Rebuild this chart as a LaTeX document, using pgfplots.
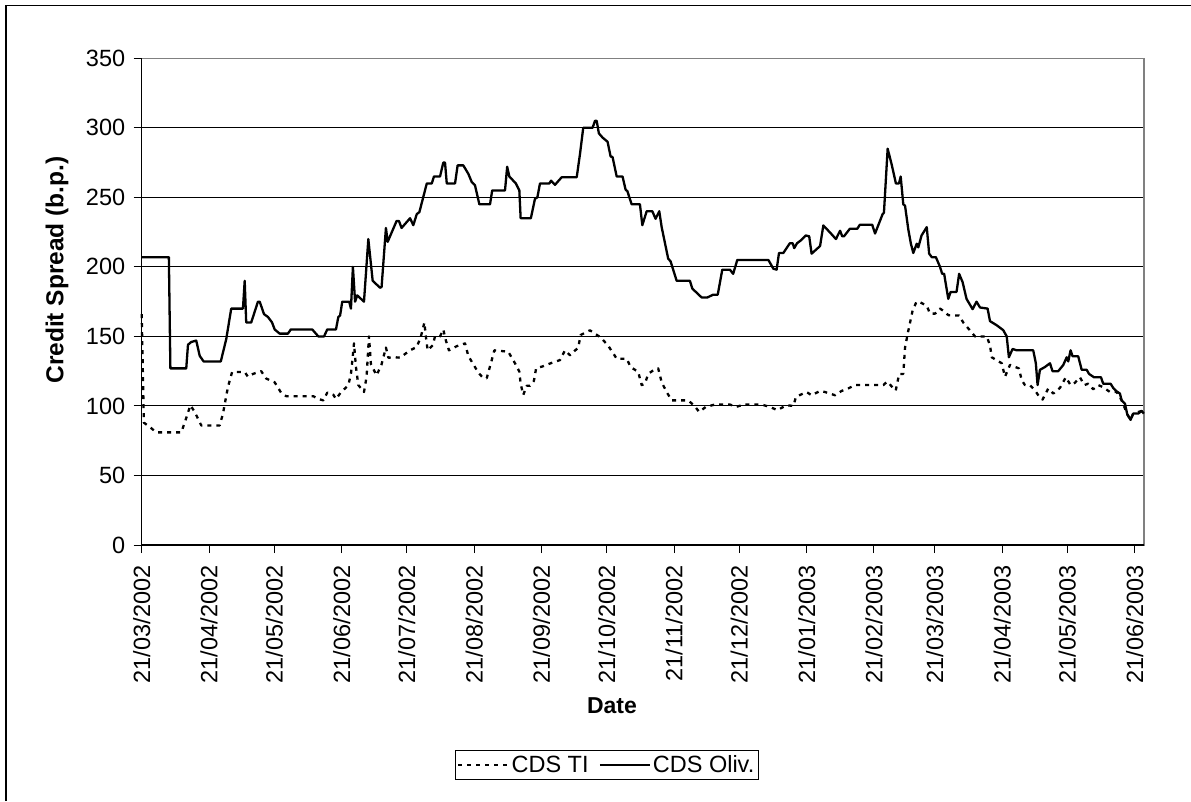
\documentclass[border=0pt]{standalone}
\usepackage{fontspec}
\setmainfont{Liberation Sans}
\usepackage{pgfplots}
\pgfplotsset{compat=1.18}
\begin{document}
\begin{tikzpicture}[x=1pt,y=1pt]
\path[use as bounding box] (0,0) rectangle (1191,801);
\draw[black, line width=1.5pt] (6,0) -- (6,795.5) -- (1191,795.5);
\begin{axis}[
  at={(141.7pt,256pt)}, anchor=south west,
  scale only axis, width=1002.3pt, height=486.7pt,
  xmin=0, xmax=461.3, ymin=0, ymax=350,
  ytick={0,50,...,350},
  xtick={0,31,61,92,122,153,184,214,245,275,306,337,365,396,426,457},
  xticklabels={21/03/2002,21/04/2002,21/05/2002,21/06/2002,21/07/2002,21/08/2002,21/09/2002,21/10/2002,21/11/2002,21/12/2002,21/01/2003,21/02/2003,21/03/2003,21/04/2003,21/05/2003,21/06/2003},
  xtick pos=left, ytick pos=left,
  tick align=outside, major tick length=8pt,
  tick style={black, line width=1pt},
  ymajorgrids, major grid style={black, line width=1pt},
  axis line style={draw=black!50, line width=1.5pt},
  ticklabel style={font=\fontsize{23.5}{27}\selectfont},
  /pgf/number format/assume math mode=true,
  xticklabel style={rotate=90, anchor=east},
  yticklabel style={anchor=east},
  xticklabel shift=9pt,
  yticklabel shift=5pt,
  legend columns=2,
  legend style={at={(axis description cs:0.464,-0.422)}, anchor=north,
    draw=black, line width=1pt, font=\fontsize{23.5}{27}\selectfont,
    inner xsep=2pt, inner ysep=3pt,
    /tikz/every even column/.append style={column sep=8pt}},
  legend image code/.code={\draw[#1] (0pt,0pt) -- (50pt,0pt);},
  clip=false,
]
\addplot[black, line width=2.3pt, dash pattern=on 4pt off 5pt, line join=round] coordinates {
(0,166) (1,88) (4.4,84) (6.7,81) (18.2,81) (19.8,88) (22.4,100.5) (24.4,95.7) (27.4,86) (35.9,86) (37.4,94.5) (39.7,113.7) (41.6,124.4) (47.4,124.4) (48.9,121) (51.2,123) (55.0,125) (57.3,119.7) (61.2,117) (64.2,109.4) (66.5,107) (79.0,107) (81.3,105) (83.6,104) (85.4,109.6) (88.2,108) (89.4,105) (91.6,109.6) (95.1,115) (96.3,123) (97.1,135) (97.7,145) (98.6,128) (99.7,115) (102.3,110) (103.5,121) (104.3,142.4) (104.6,150) (105.5,130) (108.1,122) (110.4,130) (112.4,142) (113.5,134.7) (116.6,135) (118.9,134.7) (123.5,140) (126.6,142.4) (128.5,150) (130.1,160) (130.8,149.6) (131.6,140) (133.9,143.6) (135.0,150) (137.3,150) (138.8,155) (140.0,147) (141.4,140) (145.0,143) (148.8,145) (150.3,136) (152.6,130) (154.9,124) (157.2,120) (158.8,120) (161.1,133) (162.3,140) (168.7,139) (171.8,130.7) (173.8,124.7) (174.4,116) (175.6,107.9) (177.2,114.5) (178.7,114.5) (180.5,118) (181.5,127) (184.8,128.6) (188.7,131) (192.5,133) (194.8,140) (197.1,136.4) (200.9,142) (202.0,151) (206.3,154.4) (208.6,152) (210.9,149.6) (214.4,144) (216.3,139.5) (218.6,134) (223.2,134) (225.0,128) (228.5,124.5) (230.1,115) (231.6,116) (233.1,123) (235.4,125.6) (237.7,127) (239.3,117) (241.6,110) (243.9,104) (251.5,104) (254.1,100.5) (256.6,95.7) (259.6,99.3) (263.8,101) (270.7,101) (273.5,99.3) (277.1,101) (285.3,101) (289.1,99.3) (292.5,97) (296.8,100.5) (299.9,100) (301.1,106.5) (304.5,109) (306.0,110) (308.3,107.7) (312.2,110.8) (314.5,110) (319.1,107.7) (322.1,110.8) (324.4,112) (328.3,115) (341.3,115) (343.1,117.5) (347.0,111) (348.6,123) (350.5,123) (351.3,142) (352.8,154) (354.8,168.7) (356.6,175) (358.2,174.6) (361.3,172) (362.8,166.4) (365.1,166.4) (367.4,170) (369.7,167.6) (371.2,165.3) (376.2,165) (378.1,160) (381.2,154.3) (383.5,150) (388.9,150) (390.4,143.6) (391.2,135) (395.8,130.7) (397.3,121) (399.6,129.5) (403.7,127) (405.0,118.5) (406.5,115) (408.8,115) (411.1,111.2) (413.1,106.5) (414.6,104.6) (417.2,112.5) (419.5,108.9) (422.6,113) (425.3,120.6) (427.5,115) (429.5,116.7) (431.8,120.6) (433.8,115) (435.6,116) (437.9,112) (440.2,115) (442.5,113.5) (445.6,110) (448.7,110) (451.0,104) (453.6,94) (455.1,90) (456.3,94.5) (460.2,96.4) (461.2,94.5)
};
\addlegendentry{CDS TI}
\addplot[black, line width=2.3pt, line join=round] coordinates {
(0,207) (12.5,207) (13.2,127) (20.5,127) (21.3,144) (22.8,146) (25.1,147) (26.7,136) (28.5,132) (36.4,132) (38.9,148) (41.2,170) (46.6,170) (47.4,190) (48.1,160) (50.4,160) (53.5,175) (54.3,175) (56.3,166) (58.1,164) (60.0,160) (61.2,155) (63.5,152) (67.3,152) (68.6,155) (78.5,155) (81.3,150) (83.9,150) (85.4,155) (89.4,155) (90.5,164) (91.3,165) (92.3,175) (95.5,175) (96.3,170) (97.2,200) (98.2,175) (99.2,179.5) (102.3,175) (104.3,220) (106.3,190) (109.7,185) (110.4,185.5) (112.4,228) (113.2,218) (117.3,233) (118.4,233) (119.6,228) (123.5,235) (125.0,230) (126.6,238) (127.8,239.4) (131.2,260) (133.5,260) (134.5,265) (137.3,265) (138.8,275) (139.6,275) (140.4,260) (144.2,260) (145.4,273) (148.0,273) (150.3,267) (151.9,261) (153.4,258.6) (155.4,245) (160.3,245) (161.3,255) (167.2,255) (168.2,272) (169.2,265) (172.2,260) (173.8,255) (174.4,235) (179.1,235) (181.0,249) (182.1,250) (183.3,260) (187.6,260) (188.4,262) (190.2,259) (193.3,264.5) (200.2,264.5) (201.7,281) (203.2,300) (207.5,300) (208.6,305) (209.4,305) (210.4,296) (212.1,293) (214.4,290) (215.8,279.4) (216.7,279) (218.6,265) (221.3,265) (222.7,255.5) (223.5,254.5) (225.5,245) (229.3,245) (230.4,230) (232.4,240) (235.0,240) (236.5,234.6) (238.2,240) (239.3,228.6) (242.3,205.9) (243.4,204) (246.2,190) (252.3,190) (253.4,184.4) (257.7,178) (260.3,178) (263.0,180) (265.1,180) (267.2,198) (270.7,198) (272.2,195) (274.1,205) (288.4,205) (290.7,198.7) (292.2,198) (293.3,210) (295.3,210) (298.3,217) (299.6,217) (300.3,213.5) (301.6,217) (303.3,219) (305.6,222.6) (307.2,222) (308.3,209.5) (312.2,215) (313.7,229.8) (316.8,224.7) (319.5,220) (321.4,226) (322.4,222) (323.2,222) (325.9,227.4) (329.3,227.4) (330.5,230.3) (336.2,230.3) (337.5,224) (341.0,238) (341.6,239) (343.3,285) (345.1,274) (347.1,260) (348.5,260) (349.3,265) (350.5,245) (351.3,244) (352.8,227) (354.0,216.7) (355.1,210) (356.7,216.7) (357.4,214) (358.9,222.6) (361.3,228.6) (362.4,209.5) (363.6,207) (365.5,207) (367.4,200) (368.4,195) (369.3,195) (371.2,177) (372.3,182) (375.0,182) (376.2,195) (377.8,189) (379.6,177) (382.4,169.6) (384.2,175) (385.8,170.8) (389.3,170) (390.4,161) (393.5,158) (396.5,154.5) (398.1,150) (399.1,135) (400.8,141) (402.7,140) (410.3,140) (411.5,130.7) (412.3,115) (413.4,126) (415.7,128) (418.0,130.7) (419.2,125) (421.8,125) (424.1,129.4) (425.7,135) (426.4,132) (427.5,140) (428.4,135.7) (431.0,135.7) (432.6,126) (434.9,126) (436.0,123) (438.3,120.6) (441.5,120.6) (442.5,116) (445.9,116) (447.1,113) (448.7,110.5) (450.2,108.9) (451.0,104) (452.5,101.7) (453.6,93.8) (455.1,90) (456.3,94.5) (458.6,94.5) (460.2,96.4) (461.2,94.5)
};
\addlegendentry{CDS Oliv.}
\draw[black, line width=1.5pt] (axis cs:0,350) -- (axis cs:0,0) -- (axis cs:461.3,0);
\end{axis}
\node[font=\fontsize{24.5}{28}\selectfont\bfseries, rotate=90] at (57,531) {Credit Spread (b.p.)};
\node[font=\fontsize{23}{27}\selectfont\bfseries] at (612,95) {Date};
\end{tikzpicture}
\end{document}
